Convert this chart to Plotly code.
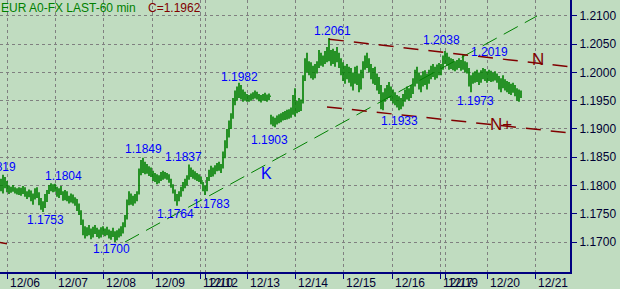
import plotly.graph_objects as go

# ---------------- data (hourly bars, EUR/USD) ----------------
high = [1.1812,1.1819,1.1815,1.1808,1.1800,1.1798,1.1801,1.1797,1.1795,1.1797,
        1.1796,1.1799,1.1797,1.1790,1.1793,1.1791,1.1786,1.1795,1.1797,1.1788,
        1.1778,1.1772,1.1785,1.1792,1.1801,1.1804,1.1802,1.1803,1.1798,1.1795,
        1.1799,1.1790,1.1792,1.1790,1.1782,1.1786,1.1784,1.1779,1.1776,1.1768,
        1.1756,1.1740,1.1728,1.1726,1.1730,1.1724,1.1727,1.1730,1.1725,1.1722,
        1.1726,1.1728,1.1724,1.1727,1.1722,1.1720,1.1725,1.1719,1.1721,1.1724,
        1.1728,1.1735,1.1748,1.1775,1.1790,1.1786,1.1782,1.1785,1.1790,1.1830,
        1.1845,1.1849,1.1842,1.1838,1.1834,1.1832,1.1826,1.1822,1.1820,1.1818,
        1.1824,1.1826,1.1824,1.1822,1.1820,1.1812,1.1802,1.1793,1.1785,1.1790,
        1.1798,1.1806,1.1812,1.1818,1.1837,1.1832,1.1828,1.1825,1.1822,1.1820,
        1.1816,1.1806,1.1800,1.1815,1.1828,1.1835,1.1832,1.1836,1.1840,1.1842,
        1.1838,1.1860,1.1880,1.1900,1.1915,1.1928,1.1955,1.1968,1.1975,1.1982,
        1.1978,1.1970,1.1966,1.1962,1.1960,1.1963,1.1965,1.1968,1.1966,1.1962,
        1.1960,1.1962,1.1964,1.1961,1.1963,1.1925,1.1922,1.1920,1.1924,1.1926,
        1.1928,1.1930,1.1932,1.1934,1.1935,1.1938,1.1960,1.1972,1.1950,1.1955,
        1.1952,1.1995,1.2025,1.2035,1.2020,1.2018,1.2012,1.2015,1.2020,1.2040,
        1.2035,1.2030,1.2038,1.2045,1.2061,1.2040,1.2042,1.2038,1.2045,1.2035,
        1.2025,1.2018,1.2012,1.2015,1.2010,1.2008,1.2000,1.2010,1.2012,1.1998,
        1.2005,1.2020,1.2030,1.2035,1.2025,1.2015,1.2008,1.2010,1.1998,1.1992,
        1.1978,1.1965,1.1972,1.1978,1.1983,1.1975,1.1970,1.1965,1.1960,1.1958,
        1.1955,1.1962,1.1970,1.1975,1.1972,1.1978,1.1990,1.2005,1.2010,1.2000,
        1.1995,1.2002,1.2004,1.1998,1.2005,1.2012,1.2015,1.2010,1.2014,1.2017,
        1.2015,1.2030,1.2038,1.2035,1.2028,1.2025,1.2024,1.2020,1.2022,1.2025,
        1.2022,1.2031,1.2020,1.2018,1.2008,1.1995,1.2000,1.2002,1.2005,1.2000,
        1.2004,1.2008,1.2006,1.2002,1.2005,1.2003,1.2000,1.2002,1.1998,1.1994,
        1.1990,1.1995,1.1988,1.1985,1.1983,1.1980,1.1982,1.1978,1.1972,1.1970,
        1.1968]
low = [1.1790,1.1786,1.1795,1.1788,1.1785,1.1787,1.1789,1.1786,1.1784,1.1783,
       1.1782,1.1785,1.1780,1.1776,1.1779,1.1772,1.1766,1.1775,1.1778,1.1765,
       1.1757,1.1753,1.1760,1.1771,1.1785,1.1790,1.1788,1.1789,1.1780,1.1778,
       1.1783,1.1773,1.1774,1.1772,1.1768,1.1770,1.1768,1.1764,1.1755,1.1748,
       1.1730,1.1712,1.1706,1.1710,1.1712,1.1705,1.1708,1.1714,1.1709,1.1706,
       1.1708,1.1713,1.1710,1.1712,1.1706,1.1704,1.1709,1.1700,1.1703,1.1708,
       1.1710,1.1715,1.1726,1.1740,1.1765,1.1766,1.1764,1.1768,1.1772,1.1784,
       1.1818,1.1822,1.1820,1.1821,1.1817,1.1815,1.1808,1.1806,1.1802,1.1804,
       1.1808,1.1810,1.1812,1.1810,1.1805,1.1796,1.1786,1.1772,1.1764,1.1772,
       1.1780,1.1790,1.1795,1.1800,1.1810,1.1815,1.1812,1.1810,1.1808,1.1806,
       1.1802,1.1790,1.1783,1.1790,1.1808,1.1815,1.1816,1.1820,1.1825,1.1826,
       1.1822,1.1830,1.1848,1.1866,1.1885,1.1900,1.1918,1.1942,1.1950,1.1955,
       1.1952,1.1948,1.1950,1.1948,1.1948,1.1950,1.1952,1.1954,1.1952,1.1949,
       1.1947,1.1950,1.1950,1.1948,1.1951,1.1908,1.1905,1.1903,1.1908,1.1910,
       1.1912,1.1915,1.1916,1.1917,1.1918,1.1920,1.1925,1.1922,1.1928,1.1930,
       1.1932,1.1945,1.1985,1.2000,1.1995,1.1990,1.1987,1.1990,1.1998,1.2008,
       1.2012,1.2010,1.2015,1.2018,1.2020,1.2012,1.2015,1.2010,1.2018,1.2008,
       1.1995,1.1985,1.1980,1.1988,1.1982,1.1975,1.1968,1.1980,1.1978,1.1965,
       1.1970,1.1990,1.2005,1.2008,1.2000,1.1988,1.1980,1.1978,1.1968,1.1962,
       1.1935,1.1933,1.1948,1.1952,1.1955,1.1950,1.1945,1.1942,1.1938,1.1933,
       1.1935,1.1940,1.1948,1.1952,1.1950,1.1955,1.1962,1.1975,1.1980,1.1970,
       1.1965,1.1975,1.1978,1.1970,1.1980,1.1988,1.1992,1.1987,1.1990,1.1995,
       1.1995,1.2005,1.2015,1.2012,1.2005,1.2006,1.2004,1.2002,1.2005,1.2008,
       1.2003,1.2005,1.2000,1.1998,1.1975,1.1965,1.1980,1.1982,1.1983,1.1978,
       1.1982,1.1988,1.1985,1.1982,1.1985,1.1983,1.1984,1.1986,1.1982,1.1970,
       1.1965,1.1972,1.1968,1.1965,1.1962,1.1960,1.1964,1.1958,1.1950,1.1948,
       1.1955]
close = [1.1805,1.1810,1.1800,1.1795,1.1792,1.1795,1.1793,1.1790,1.1791,1.1787,
         1.1790,1.1793,1.1784,1.1785,1.1788,1.1778,1.1782,1.1790,1.1781,1.1770,
         1.1763,1.1768,1.1780,1.1788,1.1798,1.1796,1.1800,1.1792,1.1786,1.1790,
         1.1785,1.1778,1.1787,1.1776,1.1779,1.1781,1.1772,1.1775,1.1760,1.1752,
         1.1735,1.1720,1.1715,1.1722,1.1718,1.1710,1.1722,1.1719,1.1716,1.1714,
         1.1720,1.1718,1.1721,1.1716,1.1712,1.1717,1.1714,1.1710,1.1713,1.1719,
         1.1722,1.1730,1.1742,1.1770,1.1783,1.1775,1.1778,1.1780,1.1786,1.1825,
         1.1835,1.1830,1.1836,1.1826,1.1828,1.1820,1.1815,1.1812,1.1809,1.1814,
         1.1818,1.1820,1.1818,1.1816,1.1808,1.1800,1.1790,1.1778,1.1776,1.1786,
         1.1794,1.1800,1.1808,1.1812,1.1828,1.1822,1.1820,1.1816,1.1812,1.1810,
         1.1808,1.1795,1.1796,1.1810,1.1825,1.1822,1.1828,1.1830,1.1834,1.1832,
         1.1836,1.1855,1.1872,1.1895,1.1908,1.1922,1.1950,1.1960,1.1965,1.1970,
         1.1958,1.1962,1.1956,1.1955,1.1954,1.1958,1.1960,1.1962,1.1958,1.1955,
         1.1952,1.1957,1.1955,1.1953,1.1958,1.1915,1.1912,1.1916,1.1918,1.1920,
         1.1922,1.1925,1.1922,1.1928,1.1926,1.1930,1.1940,1.1935,1.1938,1.1945,
         1.1948,1.1990,1.2015,1.2010,1.2005,1.2000,1.1995,1.2008,1.2012,1.2030,
         1.2020,1.2025,1.2028,1.2032,1.2030,1.2035,1.2022,1.2030,1.2028,1.2015,
         1.2005,1.1995,1.2000,1.1998,1.1990,1.1985,1.1990,1.2002,1.1985,1.1975,
         1.1998,1.2012,1.2022,1.2015,1.2008,1.1995,1.2000,1.1985,1.1978,1.1970,
         1.1948,1.1955,1.1962,1.1968,1.1965,1.1958,1.1952,1.1950,1.1945,1.1940,
         1.1948,1.1955,1.1962,1.1960,1.1965,1.1970,1.1985,1.1995,1.1990,1.1985,
         1.1990,1.1995,1.1988,1.1992,1.2000,1.2005,1.2008,1.1998,1.2006,1.2010,
         1.2008,1.2025,1.2028,1.2020,1.2015,1.2020,1.2012,1.2010,1.2015,1.2018,
         1.2012,1.2015,1.2010,1.2005,1.1985,1.1990,1.1992,1.1995,1.1990,1.1988,
         1.1998,1.2000,1.1995,1.1990,1.1998,1.1992,1.1995,1.1992,1.1988,1.1980,
         1.1985,1.1982,1.1975,1.1980,1.1970,1.1972,1.1975,1.1965,1.1960,1.1966,
         1.1962]
open_ = [close[0]] + close[:-1]
bar_index = list(range(len(close)))

# x-axis day labels (bar index where each day starts)
day_ticks = [3, 27, 51, 75.5, 99.5, 102, 123, 147, 171, 195.5, 219.5, 222, 243, 267]
day_labels = ["12/06", "12/07", "12/08", "12/09", "12/10", "12/12", "12/13",
              "12/14", "12/15", "12/16", "12/17", "12/19", "12/20", "12/21"]
price_ticks = [1.1700, 1.1750, 1.1800, 1.1850, 1.1900, 1.1950, 1.2000, 1.2050, 1.2100]

# trend lines (bar index, price)
k_x, k_y = [62, 268], [1.1700, 1.2100]
n_x, n_y = [164, 284.5], [1.2059, 1.2010]
np_x, np_y = [163, 284.5], [1.1939, 1.1893]
stub_x, stub_y = [-0.5, 3], [1.1699, 1.1697]

# price labels
lab_text = ["1.2061", "1.2038", "1.2019", "1.1973", "1.1933", "1.1982", "1.1903",
            "1.1849", "1.1837", "1.1804", "1.1753", "1.1700", "1.1764", "1.1783"]
lab_x = [165.5, 220, 244, 237, 199, 119, 134, 71, 91, 31, 22, 55, 87, 105]
lab_y = [1.20743, 1.20575, 1.20354, 1.19487, 1.19133, 1.19929, 1.18805,
         1.18646, 1.18504, 1.18168, 1.17398, 1.16885, 1.17487, 1.17664]

BG = "#C0DCC0"
GREEN = "#008000"
DRED = "#800000"
NAVY = "#000080"
BLUE = "#0000FF"
TICKC = "#000033"
FONT = "Liberation Sans, Arial, sans-serif"

fig = go.Figure()
fig.add_trace(go.Ohlc(x=bar_index, open=open_, high=high, low=low, close=close,
                      increasing=dict(line=dict(color=GREEN, width=1.6)),
                      decreasing=dict(line=dict(color=GREEN, width=1.6)),
                      tickwidth=0.4, hoverinfo="skip", showlegend=False))
fig.add_trace(go.Scatter(x=k_x, y=k_y, mode="lines",
                         line=dict(color=GREEN, width=1, dash="16px,8px"), showlegend=False))
fig.add_trace(go.Scatter(x=n_x, y=n_y, mode="lines",
                         line=dict(color=DRED, width=1.5, dash="15px,10px"), showlegend=False))
fig.add_trace(go.Scatter(x=np_x, y=np_y, mode="lines",
                         line=dict(color=DRED, width=1.5, dash="15px,10px"), showlegend=False))
fig.add_trace(go.Scatter(x=stub_x, y=stub_y, mode="lines",
                         line=dict(color=DRED, width=1.5), showlegend=False))

for t, x, y in zip(lab_text, lab_x, lab_y):
    fig.add_annotation(x=x, y=y, text=t, showarrow=False,
                       font=dict(family=FONT, size=12, color=BLUE))
fig.add_annotation(x=8.25, y=1.18319, text="1.1819", showarrow=False, xanchor="right",
                   font=dict(family=FONT, size=12, color=BLUE))
fig.add_annotation(x=132.75, y=1.18204, text="K", showarrow=False,
                   font=dict(family=FONT, size=16, color=BLUE))
fig.add_annotation(x=268.5, y=1.2023, text="N", showarrow=False,
                   font=dict(family=FONT, size=17, color=DRED))
fig.add_annotation(x=250, y=1.1908, text="N+", showarrow=False,
                   font=dict(family=FONT, size=17, color=DRED))

# day labels just right of their tick, below the axis
for t, x in zip(day_labels, day_ticks):
    fig.add_annotation(x=x, y=-10.5 / 272, xref="x", yref="paper", text=t, showarrow=False,
                       xanchor="left", yanchor="middle", xshift=2, borderpad=0,
                       font=dict(family=FONT, size=12, color=TICKC))

fig.add_annotation(xref="paper", yref="paper", x=0, y=1.0, xanchor="left", yanchor="top",
                   text="EUR A0-FX LAST-60 min", showarrow=False, borderpad=0,
                   font=dict(family=FONT, size=12, color=GREEN))
fig.add_annotation(xref="paper", yref="paper", x=147/570, y=1.0, xanchor="left", yanchor="top",
                   text="C=1.1962", showarrow=False, borderpad=0,
                   font=dict(family=FONT, size=12, color=DRED))

fig.update_layout(
    width=620, height=289,
    margin=dict(l=0, r=50, t=0, b=17),
    paper_bgcolor=BG, plot_bgcolor=BG,
    font=dict(family=FONT, size=12, color=TICKC),
    showlegend=False,
)
fig.update_xaxes(range=[-0.5, 284.5], tickmode="array", tickvals=day_ticks, ticktext=day_labels,
                 showticklabels=False, automargin=False,
                 showgrid=True, gridcolor="#808080", griddash="dot", gridwidth=1,
                 showline=True, linecolor=NAVY, linewidth=2,
                 ticks="outside", ticklen=5, tickcolor=NAVY, tickwidth=1,
                 zeroline=False, rangeslider=dict(visible=False), fixedrange=True)
fig.update_yaxes(range=[1.16469, 1.21283], side="right", tickmode="array", tickvals=price_ticks,
                 tickformat=".4f", automargin=False,
                 showgrid=True, gridcolor="#808080", griddash="dot", gridwidth=1,
                 showline=True, linecolor=NAVY, linewidth=2,
                 ticks="outside", ticklen=5, tickcolor=NAVY, tickwidth=1,
                 zeroline=False, fixedrange=True)

fig.write_html("out.html")
